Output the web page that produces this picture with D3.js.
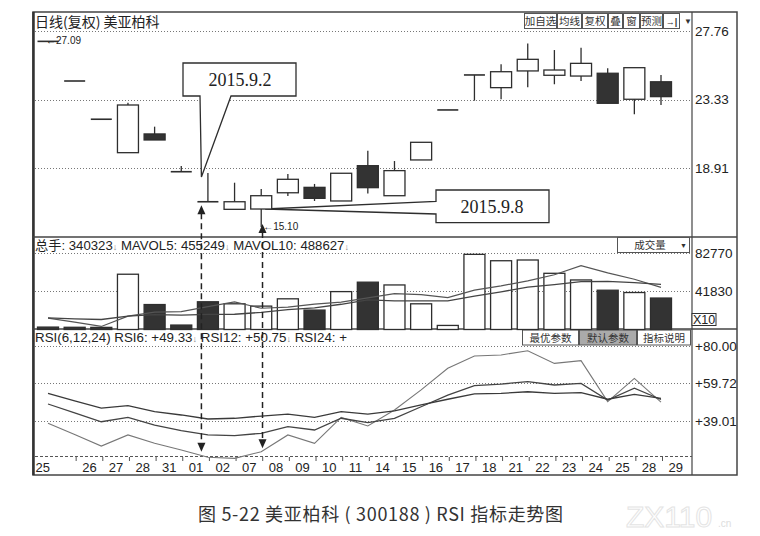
<!DOCTYPE html>
<html><head><meta charset="utf-8">
<script src="https://cdn.jsdelivr.net/npm/d3@7/dist/d3.min.js"></script>
<style>body{margin:0;background:#fff}svg{display:block}</style>
</head><body>
<svg id="c" width="760" height="536"></svg>
<script>
// ---------------- data ----------------
const dates = ["2015-08-25","2015-08-26","2015-08-27","2015-08-28","2015-08-31","2015-09-01","2015-09-02","2015-09-07","2015-09-08","2015-09-09","2015-09-10","2015-09-11","2015-09-14","2015-09-15","2015-09-16","2015-09-17","2015-09-18","2015-09-21","2015-09-22","2015-09-23","2015-09-24","2015-09-25","2015-09-28","2015-09-29"];
const dayLabels = ["25","26","27","28","31","01","02","07","08","09","10","11","14","15","16","17","18","21","22","23","24","25","28","29"];
const open  = [27.09,24.53,22.06,19.90,21.11,18.67,16.73,16.24,16.26,17.31,17.66,16.78,19.06,17.12,19.43,22.66,24.92,24.10,25.18,24.90,24.85,25.03,23.35,24.48];
const high  = [27.09,24.53,22.06,23.13,21.58,19.04,18.59,17.96,17.55,18.52,17.88,18.57,20.03,19.36,20.57,22.66,24.92,25.61,26.96,26.53,26.68,25.35,25.39,24.92];
const low   = [27.09,24.53,22.06,19.90,20.72,18.67,16.73,16.24,15.10,17.10,16.78,16.78,17.27,17.12,19.43,22.66,23.26,23.35,24.12,24.32,24.53,23.09,22.38,22.98];
const close = [27.09,24.53,22.06,22.98,20.72,18.67,16.73,16.73,17.12,18.18,16.95,18.57,17.64,18.74,20.57,22.66,24.92,25.13,25.93,25.24,25.67,23.09,25.39,23.52];
const volume  = [2600,2400,2300,59800,27000,4800,30000,27800,25300,33200,21000,41000,51200,48200,27800,4400,81300,74400,75200,60800,53600,42500,40000,34032];
const mavol5  = [12400,8000,3300,14500,18900,19300,24800,29900,23000,24200,27500,29700,34300,38900,37800,34500,42600,47200,52600,59200,69100,61300,54400,45525];
const mavol10 = [12500,11500,10800,14500,16000,15600,16400,16500,18500,21600,23400,27300,32100,30900,31000,31000,36100,40800,45800,48600,51800,52000,50800,48863];
const rsi6  = [37.8,31.6,25.3,31.4,26.8,23.2,19.2,18.6,22.2,31.4,26.8,41.0,36.3,45.0,56.0,67.8,74.5,75.1,77.4,70.5,72.0,49.6,62.3,49.33];
const rsi12 = [48.3,43.5,38.6,41.0,36.8,33.7,31.4,31.0,32.3,35.9,34.1,40.5,38.1,40.5,46.8,53.2,58.3,59.2,60.5,58.7,59.6,50.5,56.9,50.75];
const rsi24 = [54.1,50.0,46.0,47.4,44.1,42.3,40.1,40.5,41.7,42.8,41.0,44.1,42.8,44.6,47.8,50.9,53.8,54.1,55.0,54.1,54.5,50.9,53.6,51.4];
const priceTicks = [27.76, 23.33, 18.91];
const volTicks = [82770, 41830];
const rsiTicks = [80.00, 59.72, 39.01];
const highMark = 27.09, lowMark = 15.10;
const callouts = ["2015.9.2", "2015.9.8"];
const caption = "图 5-22 美亚柏科 ( 300188 ) RSI 指标走势图";

// ---------------- layout ----------------
const svg = d3.select("#c");
const L = 35, R = 692, FR = 737, TOP = 12, BOT = 475;
const idx = d3.range(dates.length);
const x = d3.scalePoint().domain(idx).range([48, 661]);
const bw = 21;
const yP = d3.scaleLinear().domain([18.91, 27.76]).range([168, 31]);
const yV = d3.scaleLinear().domain([0, 82770]).range([329.5, 253]);
const yR = d3.scaleLinear().domain([39.01, 80]).range([421, 346]);
const ink = "#2e2e2e";
const sans = "'Liberation Sans', Arial, sans-serif";
const cjk = "'Noto Sans CJK SC', 'Noto Sans', sans-serif";

// frame
svg.append("rect").attr("x", 33).attr("y", TOP).attr("width", FR - 33).attr("height", BOT - TOP)
  .attr("fill", "#fff").attr("stroke", "#444").attr("stroke-width", 1.5);
svg.append("line").attr("x1", 33.5).attr("x2", 33.5).attr("y1", TOP).attr("y2", BOT).attr("stroke", "#333").attr("stroke-width", 2.5);
svg.append("line").attr("x1", R).attr("x2", R).attr("y1", TOP).attr("y2", BOT).attr("stroke", "#444").attr("stroke-width", 1.2);
[237, 329].forEach(yy => svg.append("line").attr("x1", 33).attr("x2", FR).attr("y1", yy).attr("y2", yy).attr("stroke", "#444").attr("stroke-width", 1.3));

// dotted grids
function grid(scale, vals) {
  svg.append("g").selectAll("line").data(vals).join("line")
    .attr("x1", L).attr("x2", R).attr("y1", d => Math.round(scale(d)) + 0.5).attr("y2", d => Math.round(scale(d)) + 0.5)
    .attr("stroke", "#777").attr("stroke-width", 1).attr("stroke-dasharray", "1,2");
}
grid(yP, priceTicks); grid(yV, volTicks); grid(yR, rsiTicks);
svg.append("line").attr("x1", L).attr("x2", R).attr("y1", 456.5).attr("y2", 456.5)
  .attr("stroke", "#555").attr("stroke-width", 1.2).attr("stroke-dasharray", "3,2");

// right axes
function rAxis(scale, vals, fmt) {
  const g = svg.append("g").attr("transform", `translate(${R + 1},0)`)
    .call(d3.axisRight(scale).tickValues(vals).tickSize(0).tickPadding(2).tickFormat(fmt));
  g.select(".domain").remove();
  g.selectAll("text").attr("font-family", sans).attr("font-size", 13.5).attr("fill", "#222");
}
rAxis(yP, priceTicks, d3.format(".2f"));
rAxis(yV, volTicks, d3.format("d"));
rAxis(yR, rsiTicks, d => "+" + d3.format(".2f")(d));
svg.append("rect").attr("x", 692).attr("y", 313.5).attr("width", 24).attr("height", 12).attr("fill", "#fff").attr("stroke", "#333");
svg.append("text").attr("x", 693).attr("y", 324).attr("font-family", sans).attr("font-size", 12.5).attr("fill", "#222").text("X10");

// bottom date axis
const xa = svg.append("g").attr("transform", "translate(0,457)")
  .call(d3.axisBottom(x).tickSize(4).tickFormat(i => dayLabels[i]));
xa.select(".domain").remove();
xa.selectAll("line").attr("stroke", "#555").attr("transform", "translate(1,0)").filter(i => i === 0).remove();
xa.selectAll("text").attr("font-family", sans).attr("font-size", 13).attr("fill", "#222")
  .attr("text-anchor", "start").attr("dy", 0).attr("y", 15).attr("x", i => i === 0 ? L - x(0) : 7);

// headers
svg.append("text").attr("x", 35).attr("y", 27).attr("font-family", cjk).attr("font-size", 14).attr("fill", "#222").text("日线(复权) 美亚柏科");
function header(yy, parts, len) {
  const t = svg.append("text").attr("x", 35).attr("y", yy).attr("font-family", sans).attr("font-size", 13).attr("fill", "#222")
    .attr("textLength", len).attr("lengthAdjust", "spacingAndGlyphs");
  parts.forEach(p => {
    if (p === "↓") t.append("tspan").attr("font-size", 9).attr("fill", "#888").text("↓");
    else t.append("tspan").attr("font-family", /[\u4e00-\u9fff]/.test(p) ? cjk : sans).text(p);
  });
}
header(250, ["总手", ": 340323", "↓", " MAVOL5: 455249", "↓", " MAVOL10: 488627", "↓"], 314);
header(342, ["RSI(6,12,24) RSI6: +49.33", "↓", " RSI12: +50.75", "↓", " RSI24: +"], 312);

// top-right buttons
const btns = [["加自选", 524, 33], ["均线", 557, 25], ["复权", 582, 26], ["叠", 608, 15], ["窗", 623, 17], ["预测", 640, 23], ["→|", 663, 17]];
btns.forEach(([t, bx, w]) => {
  svg.append("rect").attr("x", bx + 0.5).attr("y", 13.5).attr("width", w - 1).attr("height", 15).attr("fill", "#fff").attr("stroke", "#555");
  svg.append("text").attr("x", bx + w / 2).attr("y", 25).attr("text-anchor", "middle").attr("font-family", t === "→|" ? sans : cjk)
    .attr("font-size", t === "→|" ? 9 : 10.5).attr("font-weight", t === "→|" ? "bold" : "normal").attr("fill", "#333").text(t);
});
svg.append("text").attr("x", 684).attr("y", 24).attr("font-size", 8).attr("fill", "#333").attr("font-family", sans).text("▼");
// 成交量 dropdown
svg.append("rect").attr("x", 617.5).attr("y", 237.5).attr("width", 72).attr("height", 15).attr("fill", "#fff").attr("stroke", "#555");
svg.append("text").attr("x", 650).attr("y", 249).attr("text-anchor", "middle").attr("font-family", cjk).attr("font-size", 10.5).attr("fill", "#333").text("成交量");
svg.append("text").attr("x", 680).attr("y", 248).attr("font-size", 7).attr("fill", "#333").attr("font-family", sans).text("▼");
// parameter buttons
[["最优参数", 522, 57, "#fff"], ["默认参数", 579, 58, "#aaa"], ["指标说明", 637, 54, "#fff"]].forEach(([t, bx, w, f]) => {
  svg.append("rect").attr("x", bx + 0.5).attr("y", 330).attr("width", w - 1).attr("height", 15).attr("fill", f).attr("stroke", "#555");
  svg.append("text").attr("x", bx + w / 2).attr("y", 341.5).attr("text-anchor", "middle").attr("font-family", cjk).attr("font-size", 10.5).attr("fill", "#333").text(t);
});

// callouts (under candles)
const ax1 = x(6) - 6.5, ax2 = x(8) + 1.3;
svg.append("path").attr("d", `M183,63H296V96H231L${ax1},${yP(high[6]) + 4}L200,96H183Z`)
  .attr("fill", "#fff").attr("stroke", ink).attr("stroke-width", 1.3);
svg.append("path").attr("d", `M436,190H549V222.7H436V214L${x(8) + 4},${yP(open[8])}L436,201.5Z`)
  .attr("fill", "#fff").attr("stroke", ink).attr("stroke-width", 1.3);
svg.append("text").attr("x", 240).attr("y", 86).attr("text-anchor", "middle").attr("font-family", "'Liberation Serif', 'DejaVu Serif', serif").attr("font-size", 18).attr("fill", "#222").text(callouts[0]);
svg.append("text").attr("x", 492).attr("y", 213).attr("text-anchor", "middle").attr("font-family", "'Liberation Serif', 'DejaVu Serif', serif").attr("font-size", 18).attr("fill", "#222").text(callouts[1]);

// candles
const cg = svg.append("g");
idx.forEach(i => {
  const cx = x(i), up = close[i] >= open[i];
  if (high[i] !== low[i]) cg.append("line").attr("x1", cx).attr("x2", cx).attr("y1", yP(high[i])).attr("y2", yP(low[i])).attr("stroke", ink).attr("stroke-width", 1.3);
  if (open[i] === close[i]) {
    cg.append("line").attr("x1", cx - bw / 2).attr("x2", cx + bw / 2).attr("y1", yP(open[i])).attr("y2", yP(open[i])).attr("stroke", ink).attr("stroke-width", 1.6);
  } else {
    const y1 = yP(Math.max(open[i], close[i])), y2 = yP(Math.min(open[i], close[i]));
    cg.append("rect").attr("x", cx - bw / 2).attr("y", y1).attr("width", bw).attr("height", y2 - y1)
      .attr("fill", up ? "#fff" : "#333").attr("stroke", ink).attr("stroke-width", 1.3);
  }
});
// high / low markers
svg.append("text").attr("x", 46).attr("y", yP(highMark) + 3).attr("font-family", sans).attr("font-size", 10).attr("fill", "#222").text("←27.09");
svg.append("text").attr("x", x(8) + 2).attr("y", yP(lowMark) + 3.5).attr("font-family", sans).attr("font-size", 10).attr("fill", "#222").text("←15.10");

// volume bars
const vg = svg.append("g");
idx.forEach(i => {
  const prev = i > 0 ? close[i - 1] : Infinity;
  const up = close[i] > open[i] || (close[i] === open[i] && close[i] > prev);
  vg.append("rect").attr("x", x(i) - bw / 2).attr("y", yV(volume[i])).attr("width", bw).attr("height", yV(0) - yV(volume[i]))
    .attr("fill", up ? "#fff" : "#333").attr("stroke", ink).attr("stroke-width", 1.3);
});
const vline = arr => d3.line().x((d, i) => x(i)).y(d => yV(d))(arr);
svg.append("path").attr("d", vline(mavol5)).attr("fill", "none").attr("stroke", "#555").attr("stroke-width", 1.2);
svg.append("path").attr("d", vline(mavol10)).attr("fill", "none").attr("stroke", "#444").attr("stroke-width", 1.3);

// RSI lines
const rline = arr => d3.line().x((d, i) => x(i)).y(d => yR(d))(arr);
svg.append("path").attr("d", rline(rsi6)).attr("fill", "none").attr("stroke", "#777").attr("stroke-width", 1.1);
svg.append("path").attr("d", rline(rsi12)).attr("fill", "none").attr("stroke", "#444").attr("stroke-width", 1.3);
svg.append("path").attr("d", rline(rsi24)).attr("fill", "none").attr("stroke", "#3a3a3a").attr("stroke-width", 1.3);

// dashed double arrows
function dArrow(ax, yTop, yBot) {
  svg.append("line").attr("x1", ax).attr("x2", ax).attr("y1", yTop + 8).attr("y2", yBot - 8)
    .attr("stroke", "#222").attr("stroke-width", 1.5).attr("stroke-dasharray", "6,4");
  svg.append("path").attr("d", `M${ax},${yTop}L${ax - 4},${yTop + 9}L${ax + 4},${yTop + 9}Z`).attr("fill", "#222");
  svg.append("path").attr("d", `M${ax},${yBot}L${ax - 4},${yBot - 9}L${ax + 4},${yBot - 9}Z`).attr("fill", "#222");
}
dArrow(ax1, yP(low[6]) + 3.5, yR(rsi6[6]) - 5.5);
dArrow(ax2, yP(lowMark) - 3, yR(rsi6[8]) - 3.5);

// caption + watermark
svg.append("text").attr("x", 198).attr("y", 521).attr("font-family", cjk).attr("font-size", 18).attr("fill", "#333")
  .attr("textLength", 365).attr("lengthAdjust", "spacing").text(caption);
svg.append("text").attr("x", 626).attr("y", 527).attr("font-family", sans).attr("font-size", 30).attr("fill", "none").attr("stroke", "#e4e4e4").attr("stroke-width", 1).text("ZX110");
svg.append("text").attr("x", 718).attr("y", 527).attr("font-family", sans).attr("font-size", 10).attr("fill", "#ddd").text(".cn");
</script>
</body></html>
